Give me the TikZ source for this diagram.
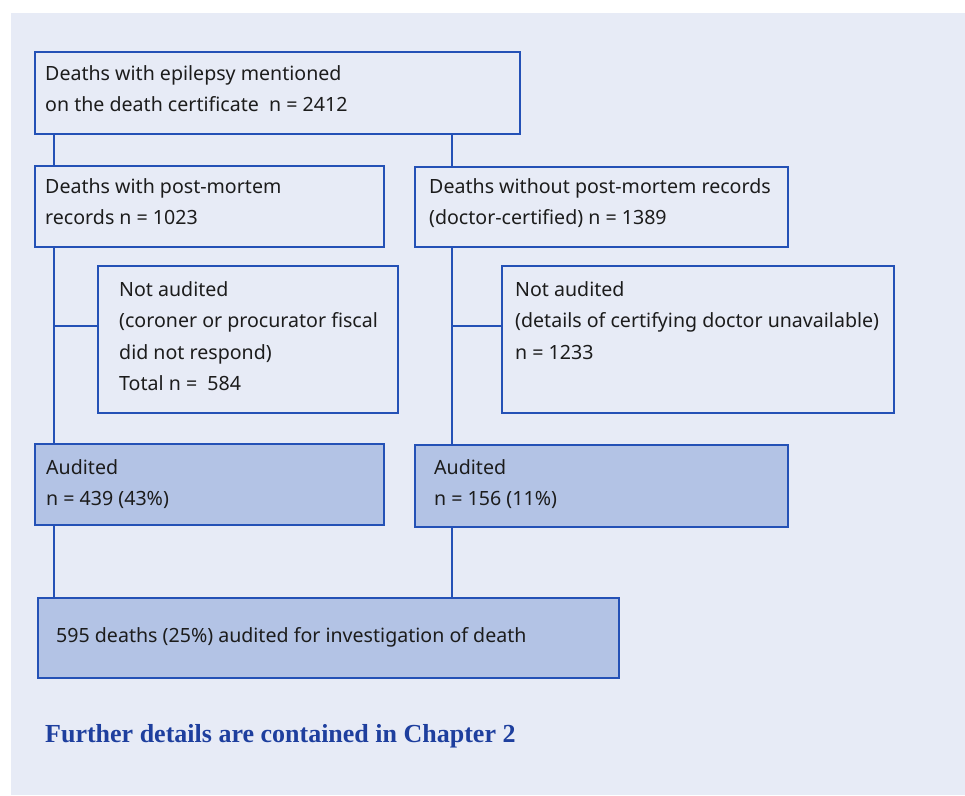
\documentclass[tikz,border=0pt]{standalone}
\usepackage{fontspec}
\setmainfont{Noto Sans}
\newfontfamily\capfont{Liberation Serif}
\definecolor{panel}{HTML}{E7EBF6}
\definecolor{audfill}{HTML}{B3C3E5}
\definecolor{linecol}{HTML}{2451B6}
\definecolor{capcol}{HTML}{1E3F9E}
\definecolor{txtcol}{HTML}{1C1C1C}
\tikzset{
	box/.style={draw=linecol, line width=1.5pt, rectangle, anchor=north west, inner sep=0pt},
	audbox/.style={box, fill=audfill},
	txt/.style={anchor=base west, inner sep=0pt, align=left, text=txtcol,
		font=\fontsize{19.6}{31.5}\selectfont},
	link/.style={draw=linecol, line width=1.5pt}
}
\begin{document}
\begin{tikzpicture}[x=1pt,y=-1pt]
		
		% panel and page size
		\useasboundingbox (0,0) rectangle (965,795);
		\fill[panel] (11,13) rectangle (965,795);
		
		% boxes
		\node[box, minimum width=485pt, minimum height=82pt] (b1) at (34,51) {};
		\node[box, minimum width=349pt, minimum height=81pt] (b2) at (34,165) {};
		\node[box, minimum width=373pt, minimum height=80pt] (b3) at (414,166) {};
		\node[box, minimum width=300pt, minimum height=147pt] (b4) at (97,265) {};
		\node[box, minimum width=392pt, minimum height=147pt] (b5) at (501,265) {};
		\node[audbox, minimum width=349pt, minimum height=81pt] (b6) at (34,443) {};
		\node[audbox, minimum width=373pt, minimum height=82pt] (b7) at (414,444) {};
		\node[audbox, minimum width=581pt, minimum height=80pt] (b8) at (37,597) {};
		
		% texts (base = last line)
		\node[txt] (t1) at ([xshift=11pt,yshift=-60.5pt]b1.north west)
			{Deaths with epilepsy mentioned\\on the death certificate~~n = 2412};
		\node[txt] (t2) at ([xshift=11pt,yshift=-59.5pt]b2.north west)
			{Deaths with post-mortem\\records n = 1023};
		\node[txt] (t3) at ([xshift=15pt,yshift=-58.5pt]b3.north west)
			{Deaths without post-mortem records\\(doctor-certified) n = 1389};
		\node[txt] (t4) at ([xshift=22pt,yshift=-125.5pt]b4.north west)
			{Not audited\\(coroner or procurator fiscal\\did not respond)\\Total n = ~584};
		\node[txt] (t5) at ([xshift=14pt,yshift=-94pt]b5.north west)
			{Not audited\\(details of certifying doctor unavailable)\\n = 1233};
		\node[txt] (t6) at ([xshift=12pt,yshift=-62.5pt]b6.north west)
			{Audited\\n = 439 (43\%)};
		\node[txt] (t7) at ([xshift=20pt,yshift=-61.5pt]b7.north west)
			{Audited\\n = 156 (11\%)};
		\node[txt] (t8) at ([xshift=19pt,yshift=-45pt]b8.north west)
			{595 deaths (25\%) audited for investigation of death};
		\node[anchor=base west, inner sep=0pt, text=capcol, font=\capfont\bfseries\fontsize{26}{30}\selectfont]
			(cap) at (45,742) {Further details are contained in Chapter 2};
		
		% connectors
		\coordinate (lx) at ([xshift=20pt]b2.north west);
		\coordinate (rx) at ([xshift=38pt]b3.north west);
		\draw[link] (lx) -- (lx |- b1.south);
		\draw[link] (rx) -- (rx |- b1.south);
		\draw[link] (lx |- b2.south) -- (lx |- b6.north);
		\draw[link] (rx |- b3.south) -- (rx |- b7.north);
		\draw[link] ([yshift=-61pt]b4.north west) -- ([yshift=-61pt]b4.north west -| lx);
		\draw[link] ([yshift=-61pt]b5.north west) -- ([yshift=-61pt]b5.north west -| rx);
		\draw[link] (lx |- b6.south) -- (lx |- b8.north);
		\draw[link] (rx |- b7.south) -- (rx |- b8.north);
		
		;
		\end{tikzpicture}
\end{document}
